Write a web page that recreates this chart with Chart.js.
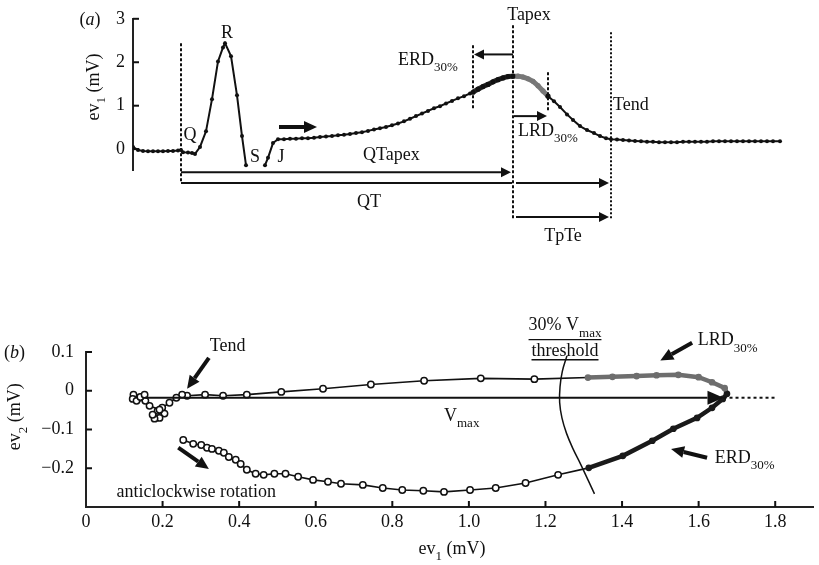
<!DOCTYPE html>
<html><head><meta charset="utf-8">
<script src="https://cdn.jsdelivr.net/npm/chart.js@4.4.1/dist/chart.umd.min.js"></script>
<style>
html,body{margin:0;padding:0;background:#fff;}
#wrap{position:relative;width:819px;height:565px;overflow:hidden;background:#fff;}
#ca{position:absolute;left:0;top:0;}
#cb{position:absolute;left:0;top:280px;}
</style></head><body>
<div id="wrap"><canvas id="ca" width="819" height="250"></canvas><canvas id="cb" width="819" height="285"></canvas></div>
<script>
const FONT = "'Liberation Serif','Times New Roman',serif";
const INK = '#111';

// ---------- Panel (a): ev1 (mV) against time (ms from QRS onset) ----------
const preQTime = [-48,-43,-38,-33,-28,-23,-18,-13,-8,-3,0];
const preQEv1  = [0.05,-0.02,-0.04,-0.05,-0.05,-0.05,-0.05,-0.04,-0.04,-0.03,-0.02];
const qrsTime  = [2,7,11,14,19,25,31,37,42,44,50,56,61,65];
const qrsEv1   = [-0.07,-0.08,-0.09,-0.11,0.05,0.41,1.15,2.02,2.34,2.44,2.14,1.24,0.30,-0.37];
const stTime   = [84,87,92,97,103,109,115,121,127,133,139,145,151,157,163,169,175,181,187,193,199,205,211,217,223,229,235,241,247,253,259,265,271,277,283,289,292,297,302,307,312,317,322,327,332,337,342,347,352,357,362,367,373,379,386,392,399,406,413,419,425,430];
const stEv1    = [-0.37,-0.20,0.14,0.23,0.23,0.24,0.24,0.25,0.25,0.26,0.28,0.29,0.30,0.32,0.33,0.35,0.37,0.39,0.42,0.45,0.48,0.51,0.55,0.59,0.64,0.70,0.76,0.82,0.88,0.94,0.99,1.05,1.11,1.17,1.22,1.28,1.31,1.38,1.44,1.49,1.55,1.60,1.64,1.67,1.68,1.68,1.66,1.62,1.56,1.46,1.34,1.22,1.10,0.97,0.80,0.67,0.53,0.44,0.37,0.30,0.25,0.23];
const postTime = [436,442,448,454,460,466,472,478,484,490,496,502,508,514,520,526,532,538,544,550,556,562,568,574,580,586,592,599];
const postEv1  = [0.22,0.21,0.20,0.19,0.18,0.17,0.17,0.16,0.16,0.16,0.16,0.17,0.17,0.17,0.17,0.17,0.18,0.18,0.18,0.18,0.18,0.18,0.18,0.18,0.18,0.18,0.18,0.18];
const ev1TickVals = [0,1,2,3];
const qOnsetT = 0, erdT = 292, tApexT = 332, lrdT = 367, tEndT = 430;

// ---------- Panel (b): ev2 against ev1 (T loop) ----------
const lowerEv1 = [0.254,0.280,0.301,0.316,0.329,0.347,0.360,0.373,0.391,0.404,0.420,0.443,0.464,0.492,0.521,0.554,0.593,0.632,0.666,0.723,0.775,0.826,0.881,0.935,1.003,1.070,1.148,1.233,1.313,1.402,1.479,1.534,1.596,1.635,1.663,1.674];
const lowerEv2 = [-0.127,-0.137,-0.140,-0.147,-0.150,-0.155,-0.160,-0.171,-0.178,-0.189,-0.204,-0.214,-0.217,-0.214,-0.214,-0.222,-0.230,-0.235,-0.240,-0.243,-0.251,-0.256,-0.258,-0.261,-0.256,-0.251,-0.238,-0.217,-0.199,-0.168,-0.129,-0.098,-0.070,-0.044,-0.021,-0.008];
const upperEv1 = [1.668,1.635,1.600,1.547,1.490,1.438,1.375,1.311,1.171,1.031,0.883,0.744,0.619,0.510,0.420,0.358,0.311,0.264];
const upperEv2 = [0.007,0.022,0.035,0.041,0.040,0.038,0.036,0.034,0.030,0.032,0.026,0.016,0.005,-0.003,-0.010,-0.013,-0.010,-0.013];
const afterEv1 = [0.251,0.236,0.218,0.199,0.187,0.205,0.192,0.179,0.174,0.192,0.166,0.155,0.140,0.124,0.122,0.132,0.142,0.153];
const afterEv2 = [-0.010,-0.018,-0.031,-0.044,-0.052,-0.059,-0.070,-0.072,-0.062,-0.049,-0.039,-0.026,-0.018,-0.010,-0.021,-0.026,-0.016,-0.010];
const arcEv1 = [1.256,1.244,1.238,1.237,1.243,1.255,1.272,1.292,1.311,1.328];
const arcEv2 = [0.090,0.050,0.010,-0.030,-0.070,-0.110,-0.150,-0.190,-0.230,-0.266];
const xTickVals = [0,0.2,0.4,0.6,0.8,1.0,1.2,1.4,1.6,1.8];
const yTickVals = [0.1,0,-0.1,-0.2];
const vmaxStartEv1 = 0.155, vmaxEndEv1 = 1.665, vmaxEv2 = -0.018, vmaxDotEndEv1 = 1.80;
const erdStartEv1 = 1.30, lrdEndEv1 = 1.30;

// ---------- drawing helpers ----------
function rich(ctx, parts, x, y, size, align, rot) {
  ctx.save(); ctx.translate(x, y); if (rot) ctx.rotate(rot);
  ctx.textBaseline = 'middle'; ctx.textAlign = 'left'; ctx.fillStyle = INK;
  const fonts = parts.map(p => (p.it ? 'italic ' : '') + (p.sub ? Math.round(size * 0.72) : size) + 'px ' + FONT);
  let w = 0;
  const ws = parts.map((p, i) => { ctx.font = fonts[i]; const m = ctx.measureText(p.t).width; w += m; return m; });
  let cx = align === 'left' ? 0 : (align === 'center' ? -w / 2 : -w);
  parts.forEach((p, i) => { ctx.font = fonts[i]; ctx.fillText(p.t, cx, p.sub ? size * 0.42 : 0); cx += ws[i]; });
  ctx.restore();
  return w;
}
function arrow(ctx, x1, y1, x2, y2, lw, hl, hw) {
  const a = Math.atan2(y2 - y1, x2 - x1);
  const bx = x2 - hl * Math.cos(a), by = y2 - hl * Math.sin(a);
  ctx.save(); ctx.strokeStyle = INK; ctx.fillStyle = INK; ctx.lineWidth = lw; ctx.setLineDash([]);
  ctx.beginPath(); ctx.moveTo(x1, y1); ctx.lineTo(bx, by); ctx.stroke();
  ctx.beginPath(); ctx.moveTo(x2, y2);
  ctx.lineTo(bx + hw * Math.sin(a), by - hw * Math.cos(a));
  ctx.lineTo(bx - hw * Math.sin(a), by + hw * Math.cos(a));
  ctx.closePath(); ctx.fill(); ctx.restore();
}
function seg(ctx, x1, y1, x2, y2, lw, dash) {
  ctx.save(); ctx.strokeStyle = INK; ctx.lineWidth = lw; ctx.setLineDash(dash || []);
  ctx.beginPath(); ctx.moveTo(x1, y1); ctx.lineTo(x2, y2); ctx.stroke(); ctx.restore();
}

// ---------- chart (a) ----------
const ecgPoints = [];
preQTime.forEach((t, i) => ecgPoints.push({x: t, y: preQEv1[i]}));
qrsTime.forEach((t, i) => ecgPoints.push({x: t, y: qrsEv1[i]}));
ecgPoints.push({x: (qrsTime[qrsTime.length - 1] + stTime[0]) / 2, y: null});
stTime.forEach((t, i) => ecgPoints.push({x: t, y: stEv1[i]}));
postTime.forEach((t, i) => ecgPoints.push({x: t, y: postEv1[i]}));

const isErd = (a, b) => a >= erdT && b <= tApexT;
const isLrd = (a, b) => a >= tApexT && b <= lrdT;

const annotA = {
  id: 'annotA',
  afterDraw(chart) {
    const ctx = chart.ctx, xs = chart.scales.x, ys = chart.scales.y, ca = chart.chartArea;
    const X = t => xs.getPixelForValue(t), Y = v => ys.getPixelForValue(v);
    ev1TickVals.forEach(v => seg(ctx, ca.left, Y(v), ca.left + 6, Y(v), 2));
    // vertical dashed markers
    seg(ctx, X(qOnsetT), Y(2.44), X(qOnsetT), Y(-0.78), 2, [3, 2]);
    seg(ctx, X(tApexT), Y(2.85), X(tApexT), Y(-1.63), 2, [3, 2]);
    seg(ctx, X(erdT), Y(2.39), X(erdT), Y(0.90), 2, [3, 2]);
    seg(ctx, X(lrdT), Y(1.77), X(lrdT), Y(0.85), 2, [3, 2]);
    seg(ctx, X(tEndT), Y(2.69), X(tEndT), Y(-1.59), 2, [2, 2]);
    // interval arrows
    arrow(ctx, X(qOnsetT), Y(-0.53), X(tApexT) - 2, Y(-0.53), 2, 10, 5);
    seg(ctx, X(qOnsetT), Y(-0.78), X(tApexT) - 1, Y(-0.78), 2);
    arrow(ctx, X(tApexT) + 3, Y(-0.78), X(tEndT) - 2, Y(-0.78), 2, 10, 5);
    arrow(ctx, X(tApexT) + 3, Y(-1.56), X(tEndT) - 2, Y(-1.56), 2, 10, 5);
    arrow(ctx, X(tApexT), Y(2.18), X(erdT) + 1, Y(2.18), 2, 10, 5);
    arrow(ctx, X(tApexT) + 1, Y(0.76), X(lrdT) - 1, Y(0.76), 2, 10, 5);
    arrow(ctx, X(98), Y(0.51), X(136), Y(0.51), 4, 13, 6);
    // labels
    rich(ctx, [{t: '('}, {t: 'a', it: true}, {t: ')'}], X(-91), Y(2.97), 18, 'center');
    rich(ctx, [{t: 'R'}], X(46), Y(2.67), 18, 'center');
    rich(ctx, [{t: 'Q'}], X(9), Y(0.32), 18, 'center');
    rich(ctx, [{t: 'S'}], X(74), Y(-0.18), 18, 'center');
    rich(ctx, [{t: 'J'}], X(100), Y(-0.18), 18, 'center');
    rich(ctx, [{t: 'QTapex'}], X(182), Y(-0.14), 18, 'left');
    rich(ctx, [{t: 'QT'}], X(188), Y(-1.22), 18, 'center');
    rich(ctx, [{t: 'Tapex'}], X(348), Y(3.08), 18, 'center');
    rich(ctx, [{t: 'ERD'}, {t: '30%', sub: true}], X(217), Y(2.05), 18, 'left');
    rich(ctx, [{t: 'LRD'}, {t: '30%', sub: true}], X(337), Y(0.41), 18, 'left');
    rich(ctx, [{t: 'Tend'}], X(432), Y(1.01), 18, 'left');
    rich(ctx, [{t: 'TpTe'}], X(382), Y(-2.0), 18, 'center');
    rich(ctx, [{t: 'ev'}, {t: '1', sub: true}, {t: ' (mV)'}], X(-87), Y(1.43), 18, 'center', -Math.PI / 2);
  }
};

new Chart(document.getElementById('ca'), {
  type: 'line',
  data: { datasets: [{
    data: ecgPoints,
    borderColor: INK, borderWidth: 2, tension: 0, spanGaps: false,
    pointRadius: c => (c.raw && c.raw.x >= erdT && c.raw.x <= lrdT) ? 2.6 : 2,
    pointBackgroundColor: c => (c.raw && c.raw.x > tApexT && c.raw.x < lrdT) ? '#777' : INK,
    pointBorderWidth: 0,
    segment: {
      borderColor: c => isErd(c.p0.parsed.x, c.p1.parsed.x) ? '#2a2a2a' : (isLrd(c.p0.parsed.x, c.p1.parsed.x) ? '#7a7a7a' : INK),
      borderWidth: c => (isErd(c.p0.parsed.x, c.p1.parsed.x) || isLrd(c.p0.parsed.x, c.p1.parsed.x)) ? 5 : 2
    }
  }]},
  options: {
    responsive: false, animation: false, parsing: true,
    layout: { padding: { top: 18.6, bottom: 80, left: 0, right: 26 } },
    plugins: { legend: { display: false }, tooltip: { enabled: false } },
    scales: {
      x: { type: 'linear', display: false, min: -48, max: 612 },
      y: {
        min: -0.48, max: 3,
        afterBuildTicks: s => { s.ticks = ev1TickVals.map(v => ({value: v})); },
        afterFit: s => { s.width = 133; },
        grid: { display: false, drawTicks: false },
        border: { display: true, color: '#222', width: 2 },
        ticks: { color: INK, padding: 8, font: { family: FONT, size: 18 }, callback: v => String(v) }
      }
    }
  },
  plugins: [annotA]
});

// ---------- chart (b) ----------
const loopPoints = [];
lowerEv1.forEach((v, i) => loopPoints.push({x: v, y: lowerEv2[i]}));
upperEv1.forEach((v, i) => loopPoints.push({x: v, y: upperEv2[i]}));
afterEv1.forEach((v, i) => loopPoints.push({x: v, y: afterEv2[i]}));
const nLower = lowerEv1.length, nUpper = upperEv1.length;
const arcPoints = arcEv1.map((v, i) => ({x: v, y: arcEv2[i]}));

function loopKind(i) {
  if (i < nLower && loopPoints[i].x >= erdStartEv1) return 'erd';
  if (i >= nLower && i < nLower + nUpper && loopPoints[i].x >= lrdEndEv1) return 'lrd';
  return 'plain';
}
function segKind(i) {
  if (i < nLower - 1 && loopPoints[i].x >= erdStartEv1) return 'erd';
  if (i === nLower - 1) return 'lrd';
  if (i >= nLower && i < nLower + nUpper - 1 && loopPoints[i + 1].x >= lrdEndEv1) return 'lrd';
  return 'plain';
}
const fmtMinus = v => (v < 0 ? '\u2212' + Math.abs(v).toFixed(1) : (v === 0 ? '0' : v.toFixed(1)));

const annotB = {
  id: 'annotB',
  afterDraw(chart) {
    const ctx = chart.ctx, xs = chart.scales.x, ys = chart.scales.y, ca = chart.chartArea;
    const X = v => xs.getPixelForValue(v), Y = v => ys.getPixelForValue(v);
    xTickVals.forEach(v => { if (v > 0) seg(ctx, X(v), ca.bottom, X(v), ca.bottom - 6, 2); });
    yTickVals.forEach(v => seg(ctx, ca.left, Y(v), ca.left + 6, Y(v), 2));
    // Vmax vector
    arrow(ctx, X(vmaxStartEv1), Y(vmaxEv2), X(vmaxEndEv1), Y(vmaxEv2), 2, 16, 7);
    seg(ctx, X(vmaxEndEv1), Y(vmaxEv2), X(vmaxDotEndEv1), Y(vmaxEv2), 2, [3, 3]);
    rich(ctx, [{t: 'V'}, {t: 'max', sub: true}], X(0.935), Y(-0.065), 18, 'left');
    // threshold label
    const w1 = rich(ctx, [{t: '30% V'}, {t: 'max', sub: true}], X(1.251), Y(0.168), 18, 'center');
    seg(ctx, X(1.251) - w1 / 2, Y(0.132), X(1.251) + w1 / 2, Y(0.132), 1.3);
    const w2 = rich(ctx, [{t: 'threshold'}], X(1.251), Y(0.103), 18, 'center');
    seg(ctx, X(1.251) - w2 / 2, Y(0.080), X(1.251) + w2 / 2, Y(0.080), 1.3);
    // pointers
    rich(ctx, [{t: 'Tend'}], X(0.370), Y(0.114), 18, 'center');
    arrow(ctx, X(0.321), Y(0.085), X(0.264), Y(0.005), 4, 13, 6);
    rich(ctx, [{t: 'anticlockwise rotation'}], X(0.288), Y(-0.261), 18, 'center');
    arrow(ctx, X(0.241), Y(-0.147), X(0.321), Y(-0.202), 4, 13, 6);
    rich(ctx, [{t: 'LRD'}, {t: '30%', sub: true}], X(1.598), Y(0.129), 18, 'left');
    arrow(ctx, X(1.583), Y(0.124), X(1.500), Y(0.078), 4, 13, 6);
    rich(ctx, [{t: 'ERD'}, {t: '30%', sub: true}], X(1.642), Y(-0.173), 18, 'left');
    arrow(ctx, X(1.622), Y(-0.173), X(1.528), Y(-0.150), 4, 13, 6);
    // panel letter and axis titles
    rich(ctx, [{t: '('}, {t: 'b', it: true}, {t: ')'}], X(-0.187), Y(0.096), 18, 'center');
    rich(ctx, [{t: 'ev'}, {t: '2', sub: true}, {t: ' (mV)'}], X(-0.184), Y(-0.067), 18, 'center', -Math.PI / 2);
    rich(ctx, [{t: 'ev'}, {t: '1', sub: true}, {t: ' (mV)'}], X(0.956), Y(-0.408), 18, 'center');
  }
};

new Chart(document.getElementById('cb'), {
  type: 'scatter',
  data: { datasets: [
    {
      data: loopPoints, showLine: true, tension: 0,
      borderColor: INK, borderWidth: 1.6,
      pointRadius: c => loopKind(c.dataIndex) === 'plain' ? 3.2 : 2.6,
      pointBackgroundColor: c => { const k = loopKind(c.dataIndex); return k === 'erd' ? '#1a1a1a' : (k === 'lrd' ? '#6e6e6e' : '#fff'); },
      pointBorderColor: c => { const k = loopKind(c.dataIndex); return k === 'erd' ? '#1a1a1a' : (k === 'lrd' ? '#6e6e6e' : INK); },
      pointBorderWidth: 1.5,
      segment: {
        borderColor: c => { const k = segKind(c.p0DataIndex); return k === 'erd' ? '#1a1a1a' : (k === 'lrd' ? '#6e6e6e' : INK); },
        borderWidth: c => segKind(c.p0DataIndex) === 'plain' ? 1.6 : 4.5
      }
    },
    { data: arcPoints, showLine: true, tension: 0.4, borderColor: INK, borderWidth: 1.5, pointRadius: 0 }
  ]},
  options: {
    responsive: false, animation: false,
    layout: { padding: { top: 72, bottom: 0, left: 0, right: 0 } },
    plugins: { legend: { display: false }, tooltip: { enabled: false } },
    scales: {
      x: {
        type: 'linear', min: 0, max: 1.9,
        afterBuildTicks: s => { s.ticks = xTickVals.map(v => ({value: v})); },
        afterFit: s => { s.height = 58; },
        grid: { display: false, drawTicks: false },
        border: { display: true, color: '#222', width: 2 },
        ticks: { color: INK, padding: 4, maxRotation: 0, autoSkip: false, font: { family: FONT, size: 18 }, callback: v => fmtMinus(v) }
      },
      y: {
        min: -0.3, max: 0.1,
        afterBuildTicks: s => { s.ticks = yTickVals.map(v => ({value: v})); },
        afterFit: s => { s.width = 86; },
        grid: { display: false, drawTicks: false },
        border: { display: true, color: '#222', width: 2 },
        ticks: { color: INK, padding: 12, font: { family: FONT, size: 18 }, callback: v => fmtMinus(v) }
      }
    }
  },
  plugins: [annotB]
});
</script>
</body></html>
